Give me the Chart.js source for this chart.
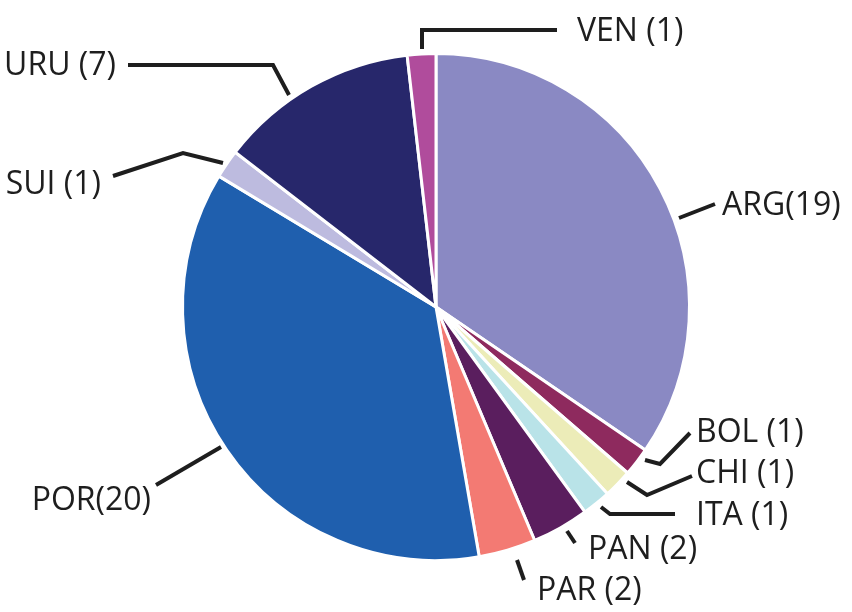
<!DOCTYPE html>
<html>
<head>
<meta charset="utf-8">
<script src="https://cdn.jsdelivr.net/npm/chart.js@4.4.1/dist/chart.umd.min.js"></script>
<style>
html,body{margin:0;padding:0;background:#fff;}
</style>
</head>
<body>
<canvas id="pie" width="852" height="612"></canvas>
<script>
// DATA
const countries = ["ARG","BOL","CHI","ITA","PAN","PAR","POR","SUI","URU","VEN"];
const counts = [19,1,1,1,2,2,20,1,7,1];
const colors = ["#8a89c3","#8e2a5e","#ececb8","#b9e3e8","#5a1e5e","#f37a73","#1f5fae","#bdbbdf","#27276b","#b04c9c"];

// label layout: leader line points, text anchor, text align
const labelLayout = [
 {pts:[[679,218],[715,204]], tx:722, ty:206, al:"left", sep:""},
 {pts:[[645,460],[660,464],[690,433]], tx:696, ty:433, al:"left", sep:" "},
 {pts:[[627,482],[647,495],[692,476]], tx:696, ty:474, al:"left", sep:" "},
 {pts:[[601,507],[610,514],[675,514]], tx:696, ty:516, al:"left", sep:" "},
 {pts:[[567,531],[575,543]], tx:588, ty:550, al:"left", sep:" "},
 {pts:[[517,560],[524,580]], tx:537, ty:591, al:"left", sep:" "},
 {pts:[[221,447],[156,485]], tx:151, ty:501, al:"right", sep:""},
 {pts:[[223,163],[183,153],[113,176]], tx:101, ty:185, al:"right", sep:" "},
 {pts:[[289,95],[273,65],[128,65]], tx:116, ty:66, al:"right", sep:" "},
 {pts:[[422,49],[422,30],[557,30]], tx:577, ty:32, al:"left", sep:" "}
];

const leaderLabels = {
 id:"leaderLabels",
 afterDatasetsDraw(chart){
  const ctx = chart.ctx;
  ctx.save();
  ctx.strokeStyle = "#1e1e1e";
  ctx.lineWidth = 4;
  ctx.fillStyle = "#1e1e1e";
  ctx.font = "32px 'Open Sans', sans-serif";
  ctx.textBaseline = "middle";
  countries.forEach((c,i)=>{
   const L = labelLayout[i];
   ctx.beginPath();
   L.pts.forEach((p,j)=> j ? ctx.lineTo(p[0],p[1]) : ctx.moveTo(p[0],p[1]));
   ctx.stroke();
   ctx.textAlign = L.al;
   ctx.fillText(c + L.sep + "(" + counts[i] + ")", L.tx, L.ty);
  });
  ctx.restore();
 }
};

new Chart(document.getElementById("pie"),{
 type:"pie",
 data:{labels:countries,datasets:[{data:counts,backgroundColor:colors,borderColor:"#fff",borderWidth:3}]},
 options:{
  responsive:false,
  animation:false,
  layout:{padding:{left:181,right:161,top:52,bottom:50}},
  plugins:{legend:{display:false},tooltip:{enabled:false}}
 },
 plugins:[leaderLabels]
});
</script>
</body>
</html>
